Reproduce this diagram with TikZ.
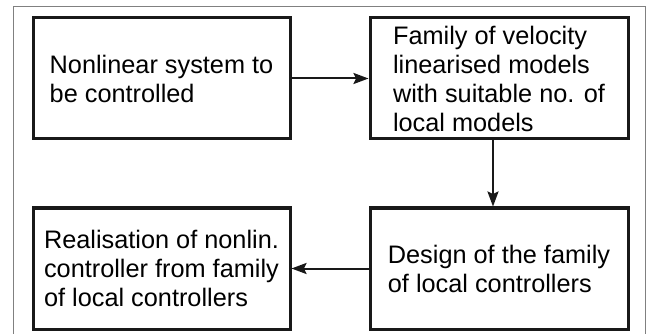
\documentclass[tikz,border=0pt]{standalone}
\usepackage{fontspec}
\setmainfont{Liberation Sans}
\usetikzlibrary{arrows.meta}
\begin{document}
\begin{tikzpicture}[x=1pt,y=-1pt,
  blk/.style={draw=black!90, line width=3pt, minimum width=257pt, minimum height=121pt,
    inner sep=0pt, align=left, font=\fontsize{25.3}{29}\selectfont},
  conn/.style={draw=black!90, line width=2pt, -{Stealth[length=15pt,width=11pt,inset=2.5pt]}},
  frameline/.style={draw=gray, line width=1pt}]
\useasboundingbox (0,0) rectangle (651,334);
\draw[frameline] (13,334) -- (13,7) -- (645,7) -- (645,334);
\node[blk] (b1) at (161.5,78.5) {Nonlinear system to\\be controlled};
\node[blk, minimum width=258pt] (b2) at (499,78.5) {Family of velocity\\linearised models\\with suitable no. of\\local models};
\node[blk, minimum width=258pt] (b3) at (499,268.5) {Design of the family\\of local controllers};
\node[blk] (b4) at (161.5,268.5) {Realisation of nonlin.\\controller from family\\of local controllers};
\draw[conn] (b1.east) -- (b2.west);
\draw[conn] ([xshift=-6pt]b2.south) -- ([xshift=-6pt]b3.north);
\draw[conn] (b3.west) -- (b4.east);
\end{tikzpicture}
\end{document}
